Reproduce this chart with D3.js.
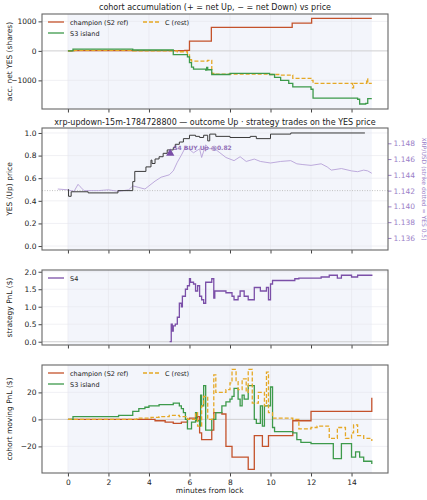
<!DOCTYPE html>
<html><head><meta charset="utf-8">
<script src="https://cdn.jsdelivr.net/npm/d3@7"></script>
<style>body{margin:0;background:#fff}text{font-family:"DejaVu Sans",sans-serif}</style>
</head><body><svg id="c" width="427" height="500"></svg>
<script>
const accChampion=[[0,0],[0.2,10],[5.77,20],[6.0,330],[7.08,800],[11.07,940],[12.03,1100],[15,1100]];
const accS3=[[0,0],[0.25,60],[3.2,30],[5.2,-130],[5.9,-200],[6.0,-400],[6.1,-550],[6.2,-620],[6.8,-650],[6.85,-560],[6.9,-640],[7.1,-800],[8.0,-760],[9.95,-800],[10.2,-900],[10.5,-1000],[10.9,-1100],[11.1,-1220],[12.0,-1300],[12.1,-1600],[14.3,-1640],[14.4,-1800],[14.7,-1780],[14.8,-1620],[15,-1620]];
const accC=[[0,0],[0.3,20],[3.2,0],[5.4,-30],[5.9,-100],[6.0,-300],[6.1,-350],[6.9,-320],[7.1,-760],[7.2,-790],[9.9,-800],[10.5,-820],[11.1,-930],[12.0,-960],[12.05,-1000],[12.1,-1100],[14.0,-1100],[14.05,-1250],[14.1,-1100],[14.75,-950],[14.8,-1100],[15,-1100]];
const yesPrice=[[0,0.50],[0.03,0.44],[0.16,0.48],[1.0,0.47],[2.47,0.49],[3.2,0.57],[3.3,0.66],[3.85,0.70],[4.1,0.76],[4.15,0.73],[4.3,0.77],[4.5,0.79],[4.7,0.82],[4.9,0.85],[5.2,0.87],[5.3,0.90],[5.5,0.92],[5.7,0.95],[6.0,0.98],[6.3,0.97],[6.5,0.96],[6.7,0.98],[6.9,0.93],[7.0,0.99],[7.3,0.97],[8.0,0.96],[9.0,0.97],[9.3,0.95],[10.0,0.99],[11.0,1.0],[14.66,1.0]];
const xrpPrice=[[-0.5,1.1422],[0,1.1421],[0.3,1.1419],[0.5,1.1428],[0.6,1.1425],[0.8,1.1420],[1.5,1.1420],[2,1.1421],[2.5,1.1419],[3,1.1421],[3.2,1.1426],[3.5,1.1424],[3.8,1.1422],[4,1.1426],[4.3,1.1432],[4.6,1.1437],[5.0,1.1440],[5.2,1.1445],[5.4,1.1456],[5.6,1.1465],[5.8,1.1475],[6.0,1.1472],[6.2,1.1468],[6.5,1.1473],[6.6,1.1462],[6.8,1.1478],[7.0,1.1473],[7.2,1.1474],[7.5,1.1468],[7.8,1.1462],[8.2,1.1458],[8.5,1.1463],[8.8,1.1457],[9.2,1.1460],[9.5,1.1457],[10,1.1455],[10.5,1.1457],[11,1.1458],[11.3,1.1454],[11.6,1.1453],[12.0,1.1452],[12.5,1.1454],[12.8,1.1450],[13,1.1446],[13.5,1.1448],[14,1.1445],[14.3,1.1444],[14.6,1.1446],[14.8,1.1445],[15,1.1442]];
const buyMarker=[5.05,0.82,"S4 BUY Up @0.82"];
const pnlS4=[[5.02,0],[5.1,0.5],[5.15,0.3],[5.2,0.45],[5.3,0.5],[5.4,0.7],[5.5,1.1],[5.6,1.0],[5.65,1.3],[5.8,1.5],[5.9,1.6],[6.0,1.8],[6.05,1.7],[6.2,1.65],[6.3,1.45],[6.4,1.6],[6.5,1.3],[6.6,1.2],[6.7,1.1],[6.8,1.7],[7.1,1.8],[7.2,1.25],[7.25,1.45],[7.8,1.4],[8.1,1.3],[8.2,1.2],[8.4,1.3],[8.5,1.45],[8.7,1.3],[8.9,1.2],[9.2,1.55],[9.5,1.45],[9.8,1.55],[9.9,1.2],[10.0,1.65],[10.1,1.75],[11.2,1.8],[11.4,1.82],[12.5,1.85],[12.9,1.9],[13.3,1.82],[13.5,1.9],[14.0,1.85],[14.3,1.9],[15,1.92]];
const pnlChampion=[[0,0],[4.3,-1],[4.8,-2],[5.2,-3],[5.6,-2],[5.9,0],[6.0,1],[6.3,0],[6.4,2],[6.5,-10],[6.6,-15],[7.1,-8],[7.2,5],[7.6,4],[7.8,-20],[8.1,-28],[8.9,-37],[9.2,-12],[9.6,-20],[9.9,-12],[11.1,-1],[12.0,6],[14.98,6],[15,16]];
const pnlS3=[[0,0],[0.25,2],[2.5,3],[3.2,6],[3.5,8],[3.8,9],[4.0,10],[4.5,11],[5.2,12],[5.5,10],[5.6,8],[5.7,5],[5.8,0],[5.9,-7],[6.1,-2],[6.3,5],[6.35,-1],[6.5,-5],[6.55,18],[6.6,10],[6.7,25],[6.8,-8],[7.1,0],[7.3,5],[7.6,10],[7.8,13],[8.0,15],[8.1,17],[8.2,23],[8.4,15],[8.5,10],[8.6,18],[8.7,15],[8.9,25],[9.2,0],[9.3,-3],[9.5,10],[9.6,-5],[9.7,10],[9.9,10],[10.0,24],[10.1,-6],[10.2,-9],[11.1,-10],[11.3,-15],[11.5,-17],[12.0,-18],[13.1,-29],[13.5,-18],[14.0,-28],[14.2,-24],[14.4,-28],[14.6,-31],[15,-33]];
const pnlC=[[0,0],[3.4,1],[4.1,1.5],[4.5,2],[5.0,3],[5.5,2],[5.9,0],[6.3,5],[6.4,-5],[6.6,10],[6.7,17],[6.9,0],[7.1,0],[7.2,33],[7.3,20],[7.8,22],[8.0,27],[8.1,37],[8.3,28],[8.4,22],[8.6,30],[8.8,20],[8.9,37],[9.1,12],[9.4,20],[9.7,10],[9.8,35],[9.9,5],[10.1,1],[11.1,0],[11.4,-7],[12.0,-6],[12.3,-5],[12.9,-14],[13.3,-6],[13.7,-14],[14.0,-10],[14.1,-4],[14.3,-12],[14.6,-14],[15,-16]];
const xTicks=[0,2,4,6,8,10,12,14];

const C={champ:"#c4522b",s3:"#3d9a4b",c:"#e5a825",s4:"#7b4fa8",yes:"#3a3a3a",xrp:"#b7a2d8"};
const svg=d3.select("#c");
const L=42,R=388;
const x=d3.scaleLinear().domain([-1.28,15.8]).range([L,R]);

function panel(top,bot,ydom,yticks,fmt,ylabel,showX){
  const y=d3.scaleLinear().domain(ydom).range([bot,top]);
  const g=svg.append("g");
  g.append("rect").attr("x",L).attr("y",top).attr("width",R-L).attr("height",bot-top).attr("fill","#fff");
  g.append("rect").attr("x",x(0)).attr("y",top).attr("width",x(15)-x(0)).attr("height",bot-top).attr("fill","#f3f5fb");
  xTicks.forEach(t=>g.append("line").attr("x1",x(t)).attr("x2",x(t)).attr("y1",top).attr("y2",bot).attr("stroke","#e6e6ec").attr("stroke-width",0.6));
  yticks.forEach(t=>g.append("line").attr("x1",L).attr("x2",R).attr("y1",y(t)).attr("y2",y(t)).attr("stroke","#e6e6ec").attr("stroke-width",0.6));
  const ax=g.append("g").attr("transform",`translate(${L},0)`).call(d3.axisLeft(y).tickValues(yticks).tickFormat(fmt).tickSize(3.5).tickPadding(2));
  ax.select(".domain").remove();ax.selectAll("text").attr("font-size",7.5).attr("fill","#222");ax.selectAll("line").attr("stroke","#444");
  const bx=g.append("g").attr("transform",`translate(0,${bot})`).call(d3.axisBottom(x).tickValues(xTicks).tickSize(3.5).tickFormat(showX?d3.format("d"):""));
  bx.select(".domain").remove();bx.selectAll("text").attr("font-size",7.5).attr("fill","#222");bx.selectAll("line").attr("stroke","#444");
  g.append("text").attr("transform",`translate(12,${(top+bot)/2}) rotate(-90)`).attr("text-anchor","middle").attr("font-size",7.5).attr("fill","#222").text(ylabel);
  return {g,y,top,bot};
}
function frame(p){p.g.append("rect").attr("x",L).attr("y",p.top).attr("width",R-L).attr("height",p.bot-p.top).attr("fill","none").attr("stroke","#666").attr("stroke-width",1.1);}
function zero(p,v){p.g.append("line").attr("x1",L).attr("x2",R).attr("y1",p.y(v)).attr("y2",p.y(v)).attr("stroke","#ccc").attr("stroke-width",0.8);}
function draw(p,data,col,opt={}){
  const ln=d3.line().x(d=>x(d[0])).y(d=>p.y(d[1])).curve(opt.linear?d3.curveLinear:d3.curveStepAfter);
  p.g.append("path").datum(data).attr("d",ln).attr("fill","none").attr("stroke",col).attr("stroke-width",opt.w||1.3).attr("stroke-dasharray",opt.dash||null).attr("opacity",opt.op||1);
}
function legend(p,items,cols){
  items.forEach((it,i)=>{
    const cx=L+6+(i%cols)*95, cy=p.top+8+Math.floor(i/cols)*11;
    p.g.append("line").attr("x1",cx).attr("x2",cx+16).attr("y1",cy).attr("y2",cy).attr("stroke",it[1]).attr("stroke-width",1.3).attr("stroke-dasharray",it[2]||null);
    p.g.append("text").attr("x",cx+22).attr("y",cy+2.5).attr("font-size",6.5).attr("fill","#222").text(it[0]);
  });
}
const title=(t,yy)=>svg.append("text").attr("x",215).attr("y",yy).attr("text-anchor","middle").attr("font-size",8).attr("fill","#222").text(t);

// panel 1
title("cohort accumulation (+ = net Up, − = net Down) vs price",10);
const p1=panel(14,109,[-1970,1250],[-1000,0,1000],d3.format(".0f"),"acc. net YES (shares)",false);
p1.g.selectAll("g.tick text").text(function(){return this.textContent.replace("-","−");});
zero(p1,0);
draw(p1,accChampion,C.champ);draw(p1,accC,C.c,{dash:"4,2"});draw(p1,accS3,C.s3);
legend(p1,[["champion (S2 ref)",C.champ],["C (rest)",C.c,"4,2"],["S3 island",C.s3]],2);
frame(p1);

// panel 2
title("xrp-updown-15m-1784728800 — outcome Up · strategy trades on the YES price",125);
const p2=panel(128,250,[-0.035,1.044],[0,0.2,0.4,0.6,0.8,1.0],d3.format(".1f"),"YES (Up) price",false);
const y2r=d3.scaleLinear().domain([1.13447,1.14994]).range([250,128]);
p2.g.append("line").attr("x1",L).attr("x2",R).attr("y1",y2r(1.142)).attr("y2",y2r(1.142)).attr("stroke","#bbb").attr("stroke-dasharray","1,1.5").attr("stroke-width",0.9);
p2.g.append("path").datum(xrpPrice).attr("d",d3.line().x(d=>x(d[0])).y(d=>y2r(d[1]))).attr("fill","none").attr("stroke",C.xrp).attr("stroke-width",0.9);
draw(p2,yesPrice,C.yes,{w:1});
p2.g.append("path").attr("d",d3.symbol(d3.symbolTriangle,30)()).attr("transform",`translate(${x(buyMarker[0])},${p2.y(buyMarker[1])})`).attr("fill",C.s4);
p2.g.append("text").attr("x",x(buyMarker[0])+3).attr("y",p2.y(buyMarker[1])-3).attr("font-size",6).attr("font-weight","bold").attr("fill",C.s4).attr("opacity",0.8).text(buyMarker[2]);
const ra=p2.g.append("g").attr("transform",`translate(${R},0)`).call(d3.axisRight(y2r).tickValues([1.136,1.138,1.140,1.142,1.144,1.146,1.148]).tickFormat(d3.format(".3f")).tickSize(3.5).tickPadding(2));
ra.select(".domain").remove();ra.selectAll("text").attr("font-size",7.5).attr("fill","#9b7fc8");ra.selectAll("line").attr("stroke","#9b7fc8");
p2.g.append("text").attr("transform",`translate(422,189) rotate(90)`).attr("text-anchor","middle").attr("font-size",6).attr("fill","#9b7fc8").text("XRP/USD (strike dotted = YES 0.5)");
frame(p2);

// panel 3
const p3=panel(270,345,[-0.094,2.05],[0,0.5,1,1.5,2],d3.format(".1f"),"strategy PnL ($)",false);
zero(p3,0);
draw(p3,pnlS4,C.s4);
legend(p3,[["S4",C.s4]],1);
frame(p3);

// panel 4
const p4=panel(365,473,[-39.7,40.3],[-20,0,20],d3.format(".0f"),"cohort moving PnL ($)",true);
p4.g.selectAll("g.tick text").text(function(){return this.textContent.replace("-","−");});
zero(p4,0);
draw(p4,pnlChampion,C.champ);draw(p4,pnlS3,C.s3);draw(p4,pnlC,C.c,{dash:"4,2"});
legend(p4,[["champion (S2 ref)",C.champ],["C (rest)",C.c,"4,2"],["S3 island",C.s3]],2);
frame(p4);
svg.append("text").attr("x",x(7)).attr("y",493).attr("text-anchor","middle").attr("font-size",7.5).attr("fill","#222").text("minutes from lock");
</script></body></html>
